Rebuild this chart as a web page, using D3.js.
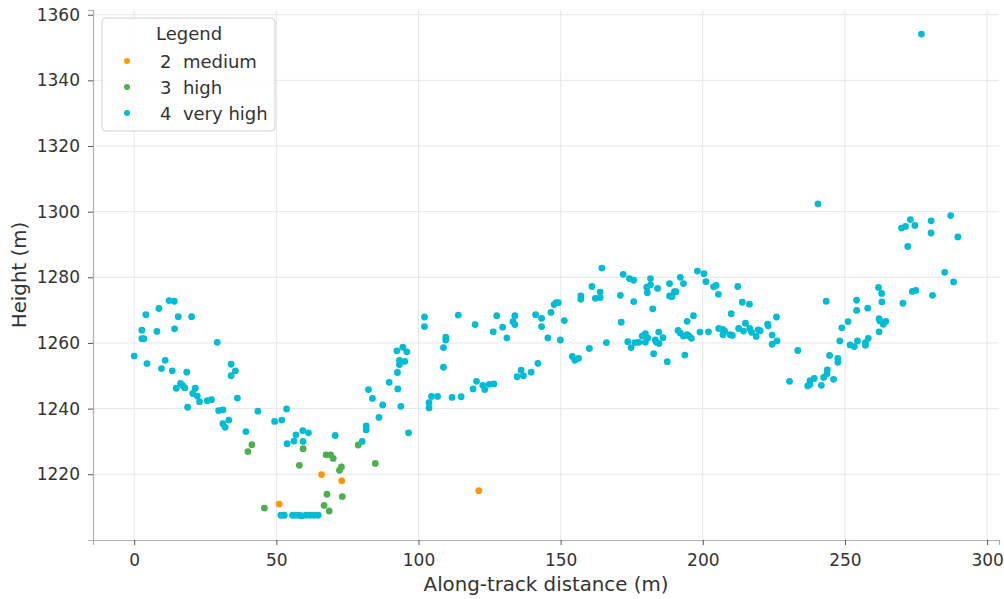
<!DOCTYPE html>
<html>
<head>
<meta charset="utf-8">
<script src="https://cdn.jsdelivr.net/npm/d3@7"></script>
<style>
  html, body { margin: 0; padding: 0; background: #fff; }
  svg { display: block; font-family: "DejaVu Sans", sans-serif; }
</style>
</head>
<body>
<svg id="chart" width="1004" height="599"></svg>
<script>
// Photon heights along the track, grouped by confidence class: [distance m, height m]
const mediumPts = [
  [65.9,1219.9],[51.0,1210.9],[73.0,1218.0],[121.2,1215.0]
];
const highPts = [
  [41.4,1229.0],[40.0,1226.9],[59.4,1227.8],[58.1,1222.7],[45.8,1209.7],[78.8,1228.9],
  [67.5,1225.9],[69.1,1225.9],[70.0,1224.8],[72.2,1221.2],[72.9,1222.2],[84.8,1223.3],
  [67.8,1213.9],[73.2,1213.2],[66.8,1210.5],[68.6,1208.8]
];
const veryHighPts = [
  [0.0,1256.0],[4.1,1268.6],[8.7,1270.5],[12.3,1272.9],[14.1,1272.7],[15.5,1268.0],[20.2,1268.0],
  [2.7,1263.9],[8.0,1263.5],[14.2,1264.3],[2.7,1261.3],[3.4,1261.3],[29.2,1260.2],[4.5,1253.7],
  [10.9,1254.7],[9.6,1252.2],[13.4,1251.5],[18.5,1251.1],[34.1,1253.5],[35.6,1251.5],[34.1,1250.0],
  [16.3,1247.7],[17.0,1247.1],[17.8,1246.3],[14.8,1246.2],[21.5,1246.2],[20.6,1244.6],[22.2,1243.8],
  [23.0,1242.1],[25.7,1242.4],[27.2,1242.7],[36.3,1243.2],[18.8,1240.4],[29.7,1239.4],[31.2,1239.6],
  [31.2,1235.4],[32.0,1234.3],[33.3,1236.5],[39.3,1233.0],[43.5,1239.2],[49.4,1236.1],[51.9,1236.5],
  [53.6,1239.9],[53.8,1229.3],[56.2,1230.1],[56.9,1232.0],[59.3,1233.3],[61.3,1232.6],[59.4,1230.0],
  [51.6,1207.5],[52.8,1207.5],[55.7,1207.5],[56.9,1207.5],[58.1,1207.5],[58.9,1207.3],[60.4,1207.5],
  [61.9,1207.5],[63.3,1207.5],[64.7,1207.5],
  [70.7,1231.8],[80.2,1230.0],[81.6,1234.7],[81.6,1233.5],[86.1,1237.3],[87.4,1241.1],[83.8,1243.1],
  [82.4,1245.8],[89.7,1248.0],[92.6,1251.0],[92.7,1246.0],[93.8,1240.7],[93.3,1253.4],[93.3,1254.7],
  [95.2,1254.4],[92.4,1257.6],[94.5,1258.7],[95.9,1257.3],[96.5,1232.6],[102.1,1267.9],[102.1,1265.0],
  [103.7,1241.8],[103.7,1240.2],[104.6,1243.7],[106.7,1243.7],[111.8,1243.4],[115.0,1243.6],
  [108.8,1252.6],[108.8,1258.6],[109.6,1261.8],[109.6,1260.9],[114.0,1268.5],[119.9,1265.6],
  [119.2,1246.0],[120.4,1248.3],[122.6,1247.1],[123.3,1245.8],[124.9,1247.4],[126.5,1247.5],
  [126.3,1263.4],[127.5,1268.3],[129.6,1264.8],[131.1,1261.5],[133.2,1266.5],[133.9,1265.6],
  [133.9,1268.3],[134.7,1249.7],[136.1,1251.7],[136.9,1250.0],[139.6,1251.1],[142.0,1253.8],
  [141.2,1268.6],[143.3,1267.5],[143.3,1265.0],[145.5,1261.5],[146.6,1269.3],
  [147.7,1271.7],[148.4,1272.3],[149.2,1272.3],[151.3,1266.8],[149.9,1260.9],[154.1,1255.9],
  [155.0,1254.7],[156.3,1255.3],[160.1,1258.3],[157.1,1274.3],[157.1,1273.3],[161.0,1277.2],
  [162.2,1273.6],[163.9,1273.8],[163.9,1275.5],[164.5,1282.8],[166.1,1260.1],[171.0,1274.5],
  [171.3,1266.3],[172.0,1280.9],[174.2,1279.6],[175.7,1279.1],[175.7,1272.6],[173.6,1260.4],
  [174.8,1258.6],[176.1,1260.1],[177.5,1260.2],[178.7,1262.1],[179.8,1262.8],[180.6,1261.5],
  [179.8,1260.2],[180.5,1275.3],[180.3,1277.0],[181.6,1277.7],[181.6,1279.6],[184.1,1276.6],
  [182.4,1270.4],[182.7,1256.7],[183.3,1260.9],[184.5,1263.3],[183.7,1260.2],[184.6,1259.8],
  [186.0,1261.6],[187.5,1254.3],[188.3,1278.1],[188.3,1274.3],[189.2,1274.1],[190.0,1275.6],
  [190.6,1275.6],[192.1,1280.0],[193.2,1278.1],[193.7,1256.3],[191.3,1263.8],[192.1,1263.0],
  [193.2,1262.1],[194.5,1262.5],[195.2,1262.1],[196.0,1261.4],[194.5,1266.6],[196.7,1268.3],
  [198.1,1281.9],[200.4,1281.1],[201.1,1278.7],[199.0,1263.3],[202.0,1263.4],[203.8,1277.1],
  [204.7,1277.5],[205.5,1274.8],[205.6,1264.4],[207.0,1264.1],[207.7,1263.6],[207.1,1262.5],
  [209.6,1262.5],[210.4,1262.3],[210.0,1268.9],[212.3,1277.2],[213.9,1272.4],[216.4,1271.8],
  [212.6,1264.4],[214.3,1263.6],[215.0,1266.0],[216.5,1264.4],[217.2,1263.2],[218.8,1262.0],
  [219.5,1264.0],[222.8,1265.7],
  [240.5,1302.4],[220.2,1263.7],[223.0,1265.2],[225.9,1267.9],[224.4,1262.4],[224.4,1259.6],
  [226.1,1260.6],[233.4,1257.7],[230.5,1248.3],[236.9,1246.9],[237.7,1247.3],[237.7,1248.5],
  [239.2,1249.2],[241.7,1247.1],[242.5,1249.5],[243.7,1250.6],[243.8,1251.8],[243.4,1272.7],
  [244.6,1256.2],[246.0,1248.9],[247.5,1255.3],[247.5,1254.1],[248.2,1260.6],[248.9,1264.6],
  [251.1,1266.5],[251.8,1259.4],[253.3,1258.9],[254.4,1260.6],[254.1,1273.0],[254.1,1269.9],
  [257.2,1259.3],[257.2,1260.1],[258.2,1261.4],[258.0,1270.6],[261.8,1276.9],[262.9,1275.1],
  [263.0,1272.5],[262.0,1267.4],[262.3,1266.7],[263.5,1265.7],[264.4,1266.6],[262.0,1263.4],
  [270.4,1272.1],[273.7,1275.7],[274.9,1276.0],[280.8,1274.5],[285.1,1281.5],[288.2,1278.6],
  [269.9,1295.0],[271.3,1295.5],[273.0,1297.6],[274.6,1295.8],[272.1,1289.4],[280.3,1297.2],
  [280.3,1293.5],[287.2,1298.8],[289.7,1292.3],[276.9,1354.1]
];

const seriesNames = ["2  medium", "3  high", "4  very high"];
const seriesColors = ["#ff9800", "#4caf50", "#00bcd4"];
const seriesData = [mediumPts, highPts, veryHighPts];

const xTicks = [0, 50, 100, 150, 200, 250, 300];
const yTicks = [1220, 1240, 1260, 1280, 1300, 1320, 1340, 1360];

const xTitle = "Along-track distance (m)";
const yTitle = "Height (m)";
const legendTitle = "Legend";

// Layout
const plot = { left: 93, right: 999, top: 10, bottom: 540 };
const svg = d3.select("#chart");

// Domains padded by 5% of the data span on each side
const allPts = seriesData.flat();
const xExt = d3.extent(allPts, d => d[0]);
const yExt = d3.extent(allPts, d => d[1]);
const xPad = (xExt[1] - xExt[0]) * 0.05;
const yPad = (yExt[1] - yExt[0]) * 0.05;

const x = d3.scaleLinear().domain([xExt[0] - xPad, xExt[1] + xPad]).range([plot.left, plot.right]);
const y = d3.scaleLinear().domain([yExt[0] - yPad, yExt[1] + yPad]).range([plot.bottom, plot.top]);

// Grid
const grid = svg.append("g").attr("stroke", "#e6e6e6").attr("stroke-width", 1);
grid.selectAll(".gx").data(xTicks).join("line")
  .attr("x1", d => x(d)).attr("x2", d => x(d))
  .attr("y1", plot.top).attr("y2", plot.bottom);
grid.selectAll(".gy").data(yTicks).join("line")
  .attr("x1", plot.left).attr("x2", plot.right)
  .attr("y1", d => y(d)).attr("y2", d => y(d));

// Axes
const xAxis = svg.append("g")
  .attr("transform", `translate(0,${plot.bottom})`)
  .call(d3.axisBottom(x).tickValues(xTicks).tickSize(5).tickPadding(9).tickFormat(d3.format("d")));
const yAxis = svg.append("g")
  .attr("transform", `translate(${plot.left},0)`)
  .call(d3.axisLeft(y).tickValues(yTicks).tickSize(5).tickPadding(8).tickFormat(d3.format("d")));

[xAxis, yAxis].forEach(a => {
  a.select(".domain").attr("stroke", "#b0b0b0").attr("stroke-width", 1.2);
  a.selectAll(".tick line").attr("stroke", "#555").attr("stroke-width", 1);
  a.selectAll(".tick text").attr("fill", "#333").style("font-size", "17px")
    .style("font-family", "'DejaVu Sans', sans-serif");
});

// Axis titles
svg.append("text")
  .attr("x", (plot.left + plot.right) / 2).attr("y", 591)
  .attr("text-anchor", "middle").attr("fill", "#333")
  .style("font-size", "19.8px").text(xTitle);
svg.append("text")
  .attr("transform", `translate(26,${(plot.top + plot.bottom) / 2}) rotate(-90)`)
  .attr("text-anchor", "middle").attr("fill", "#333")
  .style("font-size", "19.8px").text(yTitle);

// Points
const pts = svg.append("g");
seriesData.forEach((data, i) => {
  pts.append("g").selectAll("circle").data(data).join("circle")
    .attr("cx", d => x(d[0])).attr("cy", d => y(d[1]))
    .attr("r", 3.4).attr("fill", seriesColors[i]);
});

// Legend
const lg = svg.append("g").attr("transform", "translate(102,18)");
lg.append("rect").attr("width", 173).attr("height", 113).attr("rx", 4)
  .attr("fill", "rgba(255,255,255,0.85)").attr("stroke", "#d0d0d0").attr("stroke-width", 1);
lg.append("text").attr("x", 87).attr("y", 22).attr("text-anchor", "middle")
  .attr("fill", "#333").style("font-size", "18px").text(legendTitle);
seriesNames.forEach((name, i) => {
  const yy = 44 + i * 26;
  lg.append("circle").attr("cx", 25).attr("cy", yy - 1).attr("r", 3).attr("fill", seriesColors[i]);
  lg.append("text").attr("x", 58).attr("y", yy + 6).attr("fill", "#333")
    .style("font-size", "18px").attr("xml:space", "preserve").style("white-space", "pre").text(name);
});
</script>
</body>
</html>
